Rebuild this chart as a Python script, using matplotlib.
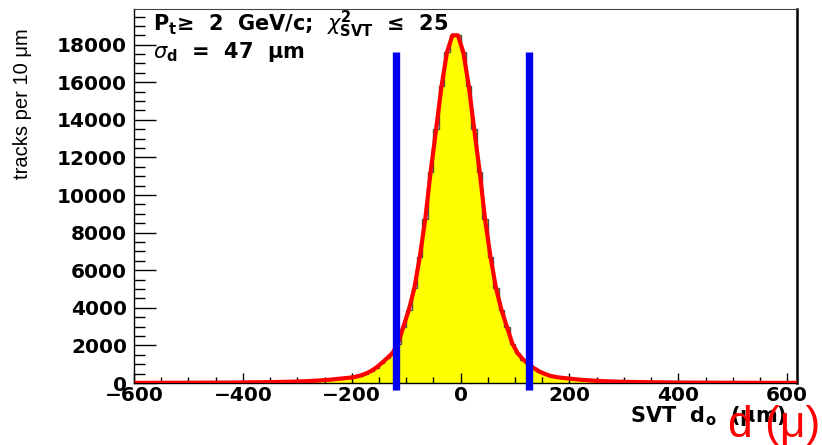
import numpy as np
from matplotlib import pyplot as plt
from matplotlib.ticker import MultipleLocator

# SVT impact parameter histogram, 10 um bins from -600 to 620
bin_edges = np.arange(-600, 630, 10)
counts = [10, 11, 11, 12, 12, 13, 14, 14, 15, 16, 17, 18, 19, 20, 21, 23, 24, 26, 27,
          31, 33, 36, 39, 42, 46, 51, 56, 62, 68,
          75, 85, 95, 110, 125, 145, 165, 190, 220, 250,
          280, 320, 390, 490, 630, 820, 1060, 1320, 1600, 2100,
          3000, 3900, 5050, 6700, 8700, 11250, 13500, 15800, 17600, 18500,
          18500, 17600, 15800, 13500, 11250, 8700, 6700, 5050, 3900, 3000,
          2100, 1580, 1250, 1000, 780, 610, 480, 380, 320, 280,
          250, 220, 190, 165, 145, 125, 110, 95, 85, 75,
          68, 62, 56, 51, 46, 42, 39, 36, 33, 31,
          27, 26, 24, 23, 21, 20, 19, 18, 17, 16, 15, 14, 14, 13, 12, 12, 11, 11, 10, 10, 10, 9, 9]
cut_positions = [-119, 125]
cut_top = 17625

plt.rcParams['font.family'] = ['DejaVu Sans']
plt.rcParams['mathtext.fontset'] = 'dejavusans'

fig = plt.figure(figsize=(8.22, 4.45), dpi=100)
ax = fig.add_axes([0.163, 0.1393, 0.8066, 0.8405])

ax.stairs(counts, bin_edges, fill=True, color='#ffff00', zorder=1)
ax.stairs(counts, bin_edges, color='#505050', linewidth=1.0, zorder=2)
centers = (bin_edges[:-1] + bin_edges[1:]) / 2
ax.plot(centers, counts, color='#ff0000', linewidth=3, zorder=3)

for xc in cut_positions:
    ax.plot([xc, xc], [-370, cut_top], color='#0000f0', linewidth=5.3,
            solid_capstyle='butt', clip_on=False, zorder=4)

ax.set_xlim(-600, 618)
ax.set_ylim(0, 19900)
ax.set_yticks(np.arange(0, 18001, 2000))
ax.xaxis.set_major_locator(MultipleLocator(200))
ax.xaxis.set_minor_locator(MultipleLocator(50))
ax.yaxis.set_minor_locator(MultipleLocator(500))

ax.tick_params(axis='y', which='major', direction='in', length=16, width=1, pad=5)
ax.tick_params(axis='y', which='minor', direction='in', length=8, width=1)
ax.tick_params(axis='x', which='major', direction='in', length=7, width=1, pad=2)
ax.tick_params(axis='x', which='minor', direction='in', length=4, width=1)
for lab in ax.get_xticklabels() + ax.get_yticklabels():
    lab.set_fontweight('bold')
    lab.set_fontsize(14.5)

ax.spines['top'].set_color('#444444')
ax.spines['right'].set_linewidth(1.8)
ax.spines['left'].set_linewidth(1.0)
ax.spines['bottom'].set_linewidth(1.0)

fig.text(153 / 822, 1 - 31 / 445,
         r'P$_{\mathbf{t}}$≥  2  GeV/c;  $\chi^{\mathbf{2}}_{\mathbf{SVT}}$  ≤  25',
         fontsize=15, fontweight='bold', va='baseline', ha='left')
fig.text(153 / 822, 1 - 58 / 445, r'$\sigma_{\mathbf{d}}$  =  47  μm',
         fontsize=15, fontweight='bold', va='baseline', ha='left')

fig.text(787 / 822, 1 - 416 / 445, r'SVT  d$_{\mathbf{o}}$  (μm)', fontsize=15,
         fontweight='bold', ha='right', va='center')
fig.text(22 / 822, 1 - 28 / 445, 'tracks per 10 μm', rotation=90, fontsize=14.5,
         family=['Liberation Sans Narrow', 'Liberation Sans'],
         ha='center', va='top')

fig.text(728 / 822, 1 - 437 / 445, 'd (μ)', color='#ff0000', fontsize=32,
         family=['Liberation Sans'], ha='left', va='baseline')

fig.savefig('out.png', dpi=100)
